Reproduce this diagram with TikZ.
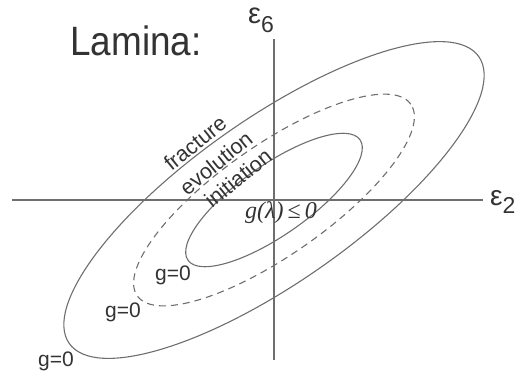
\documentclass[tikz,border=0pt]{standalone}
\usepackage{fontspec}
\setmainfont{Liberation Sans}
\newfontfamily\serifface{Liberation Serif}
\definecolor{linegray}{HTML}{6E6E6E}
\definecolor{textgray}{HTML}{333333}
\begin{document}
\begin{tikzpicture}[x=1pt,y=1pt,
  curve/.style={draw=linegray,line width=1.1pt},
  axisline/.style={draw=linegray,line width=1.2pt},
  lbl/.style={text=textgray,inner sep=0pt,font=\fontsize{20}{20}\selectfont},
  arclbl/.style={lbl,rotate=39,font=\fontsize{21.5}{22}\selectfont},
  geq/.style={lbl,font=\fontsize{21}{21}\selectfont}]
\useasboundingbox (-274,-176) rectangle (251,200);
% axes
\coordinate (xl) at (-262,0);
\coordinate (xr) at (209,0);
\coordinate (yb) at (0,-160);
\coordinate (yt) at (0,161);
\draw[axisline] (xl) -- (xr);
\draw[axisline] (yb) -- (yt);
% ellipses
\draw[curve,rotate=35] (0,0) ellipse [x radius=250pt, y radius=82pt];
\draw[curve,dash pattern=on 7pt off 5pt,rotate=35] (0,0) ellipse [x radius=167pt, y radius=55pt];
\draw[curve,rotate=35] (0,0) ellipse [x radius=105pt, y radius=35pt];
% labels
\node[lbl,anchor=base,font=\fontsize{41}{41}\selectfont,xscale=0.9] (lam) at (-138,145) {Lamina:};
\node[lbl,anchor=base west] (e6) at (-26,177) {\fontsize{29}{29}\selectfont ε\raisebox{-9pt}{\fontsize{23}{23}\selectfont 6}};
\node[lbl,anchor=base west] (e2) at (216,-5) {\fontsize{28}{28}\selectfont ε\raisebox{-8pt}{\fontsize{23}{23}\selectfont 2}};
\node[arclbl] (frac) at (-79,57) {fracture};
\node[arclbl] (evol) at (-58,37) {evolution};
\node[arclbl] (init) at (-36,22) {initiation};
\node[lbl,font=\fontsize{24}{24}\serifface] (gl) at (7,-13) {\itshape g(λ)\,\upshape≤\,\itshape 0};
\node[geq] (g1) at (-101,-75) {g=0};
\node[geq] (g2) at (-151,-112) {g=0};
\node[geq] (g3) at (-218,-161) {g=0};
\end{tikzpicture}
\end{document}
